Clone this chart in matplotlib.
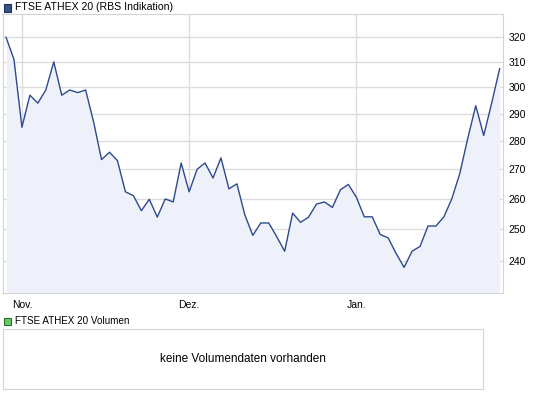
import numpy as np
import matplotlib.pyplot as plt
from matplotlib.patches import Rectangle
from matplotlib.ticker import NullLocator

plt.rcParams['font.family'] = ['Liberation Sans', 'DejaVu Sans']

# Schlusskurse (Handelstage)
kurs = [320, 311, 285, 297, 294, 299, 310, 297, 299, 298,
        299, 287, 273.4, 276, 273, 262.3, 261, 256, 259.8, 253.9,
        259.9, 258.9, 272.2, 262.3, 270, 272.2, 267, 274, 263.3, 265,
        254.6, 248, 252, 252, 247.6, 243, 255.2, 252.2, 253.9, 258.2,
        258.9, 257.1, 263, 264.8, 260.5, 254, 254, 248.3, 247.2, 242.3,
        238, 243, 244.5, 251, 251, 254, 260, 268.6, 281, 293,
        282, 294, 307.3]
monat_pos = [2, 23, 44]
monat_lab = ['Nov.', 'Dez.', 'Jan.']
y_ticks = [240, 250, 260, 270, 280, 290, 300, 310, 320]

W, H = 545, 398
fig = plt.figure(figsize=(W / 100, H / 100), dpi=100)

# Hauptchart
ax = fig.add_axes([2.5 / W, 1 - 293.3 / H, 500.8 / W, 279.3 / H])
x = np.arange(len(kurs))
ax.fill_between(x, kurs, 200, color='#eef1f9', lw=0)
ax.plot(x, kurs, color='#2c4a8c', lw=1.0)
ax.set_yscale('log')
ax.set_ylim(230.2, 329.7)
ax.set_xlim(-0.44, 62.46)
ax.yaxis.tick_right()
ax.yaxis.set_minor_locator(NullLocator())
ax.set_yticks(y_ticks)
ax.set_yticklabels([str(v) for v in y_ticks])
ax.set_xticks(monat_pos)
ax.set_xticklabels(monat_lab)
ax.tick_params(length=0, labelsize=7.5, colors='#000000')
ax.tick_params(axis='y', pad=4)
ax.tick_params(axis='x', pad=5)
ax.grid(True, color='#dcdcdc', lw=1.0)
ax.set_axisbelow(True)
for s in ax.spines.values():
    s.set_color('#d4d4d4')

fig.patches.append(Rectangle((3.5 / W, 1 - 11.5 / H), 7 / W, 7 / H,
                             transform=fig.transFigure, facecolor='#34548c',
                             edgecolor='#1e2f55', lw=0.8))
fig.text(15 / W, 1 - 7.5 / H, 'FTSE ATHEX 20 (RBS Indikation)',
         fontsize=7.6, va='center', ha='left')

# Volumen
ax2 = fig.add_axes([3 / W, 1 - 389 / H, 480 / W, 60 / H])
ax2.set_xticks([])
ax2.set_yticks([])
for s in ax2.spines.values():
    s.set_color('#d4d4d4')
ax2.text(0.5, 0.5, 'keine Volumendaten vorhanden', transform=ax2.transAxes,
         ha='center', va='center', fontsize=8.5)

fig.patches.append(Rectangle((3.5 / W, 1 - 325 / H), 7 / W, 7 / H,
                             transform=fig.transFigure, facecolor='#66cc66',
                             edgecolor='#2d6b2d', lw=0.8))
fig.text(15 / W, 1 - 321 / H, 'FTSE ATHEX 20 Volumen',
         fontsize=7.1, va='center', ha='left')

fig.savefig('out.png', dpi=100)
